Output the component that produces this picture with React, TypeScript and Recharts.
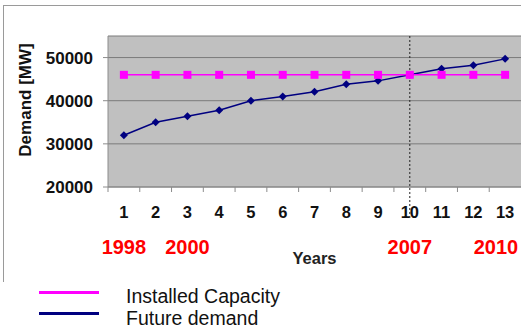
import React from "react";
import {
  LineChart,
  Line,
  XAxis,
  YAxis,
  CartesianGrid,
  ReferenceLine,
} from "recharts";

const categories = [1, 2, 3, 4, 5, 6, 7, 8, 9, 10, 11, 12, 13];
const installedCapacity = [
  46000, 46000, 46000, 46000, 46000, 46000, 46000, 46000, 46000, 46000, 46000, 46000, 46000,
];
const futureDemand = [
  32000, 35000, 36400, 37800, 40000, 41000, 42100, 43800, 44600, 46000, 47400, 48200, 49700,
];
const yearLabels = [
  { category: 1, label: "1998" },
  { category: 3, label: "2000" },
  { category: 10, label: "2007" },
  { category: 13, label: "2010" },
];
const yTicks = [20000, 30000, 40000, 50000];
const crossoverCategory = 10;

const series = [
  { key: "installed", name: "Installed Capacity", color: "#ff00ff" },
  { key: "demand", name: "Future demand", color: "#000080" },
];

const data = categories.map((c, i) => ({
  year: c,
  installed: installedCapacity[i],
  demand: futureDemand[i],
}));

const W = 521;
const H = 328;
const PLOT_LEFT = 108;
const FONT = "'Liberation Sans', Arial, sans-serif";
const band = (W - PLOT_LEFT) / categories.length;

const SquareDot = (props: any) => {
  const { cx, cy, fill } = props;
  if (cx == null || cy == null) return null;
  return <rect x={cx - 4} y={cy - 4} width={8} height={8} fill={fill} />;
};

const DiamondDot = (props: any) => {
  const { cx, cy, fill } = props;
  if (cx == null || cy == null) return null;
  return (
    <polygon
      points={`${cx},${cy - 4} ${cx + 4},${cy} ${cx},${cy + 4} ${cx - 4},${cy}`}
      fill={fill}
    />
  );
};

// category number, tick mark between bands, and the calendar year underneath
const XTick = (props: any) => {
  const { x, y, payload } = props;
  const year = yearLabels.find((d) => d.category === payload.value);
  const half = band / 2;
  return (
    <g>
      <line x1={x - half} x2={x - half} y1={y} y2={y + 5} stroke="#8c8c8c" />
      <text
        x={x}
        y={y + 31}
        textAnchor="middle"
        fontFamily={FONT}
        fontWeight="bold"
        fontSize={16.5}
        fill="#111"
      >
        {payload.value}
      </text>
      {year && (
        <text
          x={Math.min(x, W - 25)}
          y={y + 67}
          textAnchor="middle"
          fontFamily={FONT}
          fontWeight="bold"
          fontSize={20}
          fill="#ff0000"
        >
          {year.label}
        </text>
      )}
    </g>
  );
};

const DottedMarker = (props: any) => {
  const { x1, x2, y1, y2 } = props;
  if (x1 == null) return null;
  return (
    <line
      x1={x1}
      x2={x2}
      y1={Math.min(y1, y2)}
      y2={Math.max(y1, y2) + 31}
      stroke="#222"
      strokeWidth={1}
      strokeDasharray="2 2"
    />
  );
};

const App: React.FC = () => {
  return (
    <div
      style={{
        position: "absolute",
        left: 0,
        top: 0,
        width: W,
        height: H,
        background: "#fff",
        fontFamily: FONT,
        overflow: "hidden",
      }}
    >
      <div
        style={{
          position: "absolute",
          left: 3,
          top: 5,
          width: W,
          height: 276,
          borderTop: "1px solid #9a9a9a",
          borderLeft: "1px solid #9a9a9a",
        }}
      />
      <div style={{ position: "absolute", left: 0, top: 0 }}>
        <LineChart
          width={W}
          height={H}
          data={data}
          margin={{ top: 36, right: 0, left: 48, bottom: 51 }}
        >
          <CartesianGrid
            vertical={false}
            stroke="#7a7a7a"
            fill="#c0c0c0"
            fillOpacity={1}
          />
          <XAxis
            dataKey="year"
            type="number"
            domain={[0.5, 13.5]}
            ticks={categories}
            interval={0}
            tickSize={0}
            tickMargin={0}
            height={90}
            axisLine={{ stroke: "#8c8c8c" }}
            tickLine={false}
            tick={<XTick />}
            label={{
              value: "Years",
              position: "insideBottom",
              offset: 13,
              style: { fontFamily: FONT, fontWeight: "bold", fontSize: 16.5, fill: "#222" },
            }}
          />
          <YAxis
            type="number"
            domain={[20000, 55000]}
            ticks={yTicks}
            width={60}
            tickSize={5}
            tickMargin={10}
            axisLine={{ stroke: "#8c8c8c" }}
            tickLine={{ stroke: "#8c8c8c" }}
            tick={{ fontFamily: FONT, fontWeight: "bold", fontSize: 17, fill: "#111" }}
            label={{
              content: () => (
                <text
                  x={25}
                  y={100}
                  transform="rotate(-90 25 100)"
                  textAnchor="middle"
                  dominantBaseline="central"
                  fontFamily={FONT}
                  fontWeight="bold"
                  fontSize={17}
                  fill="#111"
                >
                  Demand [MW]
                </text>
              ),
            }}
          />
          <ReferenceLine x={crossoverCategory} shape={<DottedMarker />} ifOverflow="visible" />
          <Line
            dataKey="demand"
            name="Future demand"
            stroke="#000080"
            strokeWidth={1.5}
            dot={<DiamondDot fill="#000080" />}
            isAnimationActive={false}
          />
          <Line
            dataKey="installed"
            name="Installed Capacity"
            stroke="#ff00ff"
            strokeWidth={1.5}
            dot={<SquareDot fill="#ff00ff" />}
            isAnimationActive={false}
          />
        </LineChart>
      </div>
      {series.map((s, i) => (
        <div key={s.key}>
          <div
            style={{
              position: "absolute",
              left: 39,
              top: 291 + i * 21,
              width: 60,
              height: 3,
              background: s.color,
            }}
          />
          <div
            style={{
              position: "absolute",
              left: 126,
              top: 285 + i * 22,
              fontSize: 19.5,
              lineHeight: "22px",
              color: "#111",
              whiteSpace: "nowrap",
            }}
          >
            {s.name}
          </div>
        </div>
      ))}
    </div>
  );
};

export default App;
